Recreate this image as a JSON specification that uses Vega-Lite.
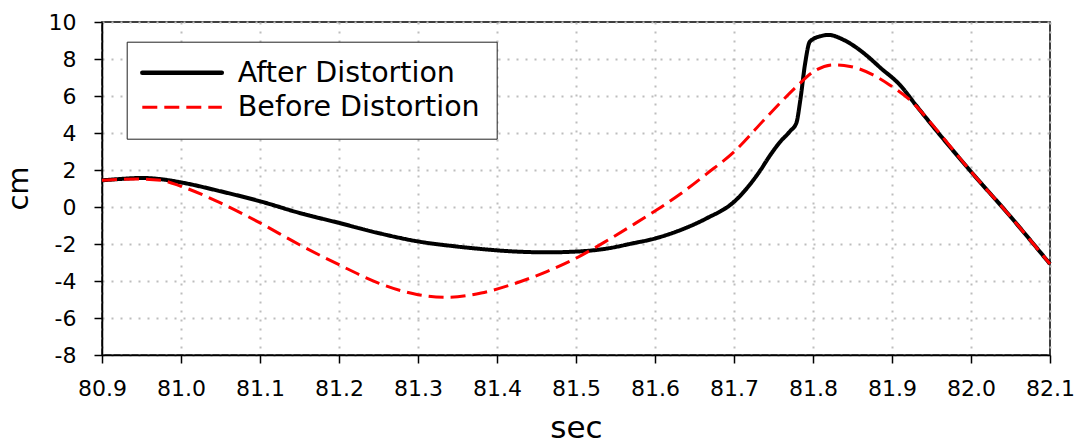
{
  "$schema": "https://vega.github.io/schema/vega-lite/v6.json",
  "autosize": "none",
  "width": 948,
  "height": 333,
  "padding": {"left": 102, "top": 22, "right": 26, "bottom": 91},
  "background": "white",
  "data": {
    "values": [
      {"t": 80.9, "cm": 1.44, "series": "After Distortion"},
      {"t": 80.925, "cm": 1.52, "series": "After Distortion"},
      {"t": 80.95, "cm": 1.57, "series": "After Distortion"},
      {"t": 80.975, "cm": 1.5, "series": "After Distortion"},
      {"t": 81.0, "cm": 1.33, "series": "After Distortion"},
      {"t": 81.05, "cm": 0.85, "series": "After Distortion"},
      {"t": 81.1, "cm": 0.31, "series": "After Distortion"},
      {"t": 81.15, "cm": -0.32, "series": "After Distortion"},
      {"t": 81.2, "cm": -0.86, "series": "After Distortion"},
      {"t": 81.25, "cm": -1.41, "series": "After Distortion"},
      {"t": 81.3, "cm": -1.86, "series": "After Distortion"},
      {"t": 81.35, "cm": -2.14, "series": "After Distortion"},
      {"t": 81.38, "cm": -2.27, "series": "After Distortion"},
      {"t": 81.42, "cm": -2.4, "series": "After Distortion"},
      {"t": 81.463, "cm": -2.45, "series": "After Distortion"},
      {"t": 81.5, "cm": -2.41, "series": "After Distortion"},
      {"t": 81.54, "cm": -2.24, "series": "After Distortion"},
      {"t": 81.57, "cm": -1.98, "series": "After Distortion"},
      {"t": 81.6, "cm": -1.7, "series": "After Distortion"},
      {"t": 81.632, "cm": -1.25, "series": "After Distortion"},
      {"t": 81.665, "cm": -0.62, "series": "After Distortion"},
      {"t": 81.7, "cm": 0.28, "series": "After Distortion"},
      {"t": 81.733, "cm": 1.96, "series": "After Distortion"},
      {"t": 81.745, "cm": 2.75, "series": "After Distortion"},
      {"t": 81.758, "cm": 3.5, "series": "After Distortion"},
      {"t": 81.771, "cm": 4.1, "series": "After Distortion"},
      {"t": 81.779, "cm": 4.55, "series": "After Distortion"},
      {"t": 81.784, "cm": 5.8, "series": "After Distortion"},
      {"t": 81.79, "cm": 7.75, "series": "After Distortion"},
      {"t": 81.796, "cm": 8.94, "series": "After Distortion"},
      {"t": 81.81, "cm": 9.24, "series": "After Distortion"},
      {"t": 81.82, "cm": 9.3, "series": "After Distortion"},
      {"t": 81.838, "cm": 9.05, "series": "After Distortion"},
      {"t": 81.85, "cm": 8.76, "series": "After Distortion"},
      {"t": 81.867, "cm": 8.22, "series": "After Distortion"},
      {"t": 81.886, "cm": 7.5, "series": "After Distortion"},
      {"t": 81.91, "cm": 6.6, "series": "After Distortion"},
      {"t": 81.93, "cm": 5.52, "series": "After Distortion"},
      {"t": 81.952, "cm": 4.35, "series": "After Distortion"},
      {"t": 82.0, "cm": 1.91, "series": "After Distortion"},
      {"t": 82.05, "cm": -0.52, "series": "After Distortion"},
      {"t": 82.1, "cm": -3.08, "series": "After Distortion"},
      {"t": 80.9, "cm": 1.44, "series": "Before Distortion"},
      {"t": 80.925, "cm": 1.49, "series": "Before Distortion"},
      {"t": 80.95, "cm": 1.51, "series": "Before Distortion"},
      {"t": 80.975, "cm": 1.44, "series": "Before Distortion"},
      {"t": 81.0, "cm": 1.12, "series": "Before Distortion"},
      {"t": 81.05, "cm": 0.22, "series": "Before Distortion"},
      {"t": 81.1, "cm": -0.86, "series": "Before Distortion"},
      {"t": 81.15, "cm": -2.04, "series": "Before Distortion"},
      {"t": 81.2, "cm": -3.12, "series": "Before Distortion"},
      {"t": 81.25, "cm": -4.11, "series": "Before Distortion"},
      {"t": 81.3, "cm": -4.74, "series": "Before Distortion"},
      {"t": 81.337, "cm": -4.88, "series": "Before Distortion"},
      {"t": 81.38, "cm": -4.65, "series": "Before Distortion"},
      {"t": 81.42, "cm": -4.17, "series": "Before Distortion"},
      {"t": 81.463, "cm": -3.49, "series": "Before Distortion"},
      {"t": 81.5, "cm": -2.77, "series": "Before Distortion"},
      {"t": 81.54, "cm": -1.8, "series": "Before Distortion"},
      {"t": 81.57, "cm": -1.02, "series": "Before Distortion"},
      {"t": 81.6, "cm": -0.22, "series": "Before Distortion"},
      {"t": 81.632, "cm": 0.7, "series": "Before Distortion"},
      {"t": 81.665, "cm": 1.78, "series": "Before Distortion"},
      {"t": 81.7, "cm": 2.98, "series": "Before Distortion"},
      {"t": 81.742, "cm": 4.89, "series": "Before Distortion"},
      {"t": 81.779, "cm": 6.5, "series": "Before Distortion"},
      {"t": 81.8, "cm": 7.3, "series": "Before Distortion"},
      {"t": 81.826, "cm": 7.68, "series": "Before Distortion"},
      {"t": 81.847, "cm": 7.6, "series": "Before Distortion"},
      {"t": 81.876, "cm": 7.14, "series": "Before Distortion"},
      {"t": 81.897, "cm": 6.6, "series": "Before Distortion"},
      {"t": 81.927, "cm": 5.61, "series": "Before Distortion"},
      {"t": 81.952, "cm": 4.4, "series": "Before Distortion"},
      {"t": 82.0, "cm": 1.91, "series": "Before Distortion"},
      {"t": 82.05, "cm": -0.52, "series": "Before Distortion"},
      {"t": 82.1, "cm": -3.08, "series": "Before Distortion"}
    ]
  },
  "encoding": {
    "x": {
      "field": "t",
      "type": "quantitative",
      "scale": {"domain": [80.9, 82.1], "nice": false, "zero": false},
      "axis": {
        "values": [80.9, 81.0, 81.1, 81.2, 81.3, 81.4, 81.5, 81.6, 81.7, 81.8, 81.9, 82.0, 82.1],
        "format": ".1f",
        "title": "sec",
        "titleFontSize": 31,
        "titleBaseline": "alphabetic",
        "titleY": 82,
        "labelPadding": 15,
        "labelFlush": false
      }
    },
    "y": {
      "field": "cm",
      "type": "quantitative",
      "scale": {"domain": [-8, 10], "nice": false, "zero": false},
      "axis": {
        "values": [-8, -6, -4, -2, 0, 2, 4, 6, 8, 10],
        "labelExpr": "toString(datum.value)",
        "title": "cm",
        "titleFontSize": 29,
        "titleAngle": -90,
        "titleAlign": "center",
        "titleBaseline": "alphabetic",
        "titleX": -75,
        "titleY": 166,
        "labelPadding": 18
      }
    },
    "color": {
      "field": "series",
      "type": "nominal",
      "scale": {"domain": ["After Distortion", "Before Distortion"], "range": ["#000000", "#ff0000"]},
      "legend": {
        "orient": "none",
        "legendX": 24.7,
        "legendY": 19.7,
        "title": null,
        "padding": 16.8,
        "fillColor": "white",
        "strokeColor": "#222222",
        "symbolType": "M-2.65,0H2.65",
        "symbolSize": 900,
        "symbolStrokeWidth": 4,
        "symbolOffset": 24.3,
        "labelOffset": 41.5,
        "labelFontSize": 28.5,
        "labelColor": "#000000",
        "labelLimit": 500,
        "rowPadding": 5.5,
        "encode": {
          "symbols": {
            "update": {
              "strokeWidth": {"signal": "datum.value === 'After Distortion' ? 4.5 : 3"},
              "strokeCap": {"signal": "datum.value === 'After Distortion' ? 'round' : 'butt'"}
            }
          }
        }
      }
    },
    "strokeDash": {
      "field": "series",
      "type": "nominal",
      "scale": {"domain": ["After Distortion", "Before Distortion"], "range": [[1, 0], [15, 7]]},
      "legend": {
        "orient": "none",
        "legendX": 24.7,
        "legendY": 19.7,
        "title": null
      }
    }
  },
  "layer": [
    {
      "transform": [{"filter": "datum.series === 'After Distortion'"}],
      "mark": {"type": "line", "strokeWidth": 4, "interpolate": "monotone", "strokeJoin": "round"}
    },
    {
      "transform": [{"filter": "datum.series === 'Before Distortion'"}],
      "mark": {"type": "line", "strokeWidth": 3, "interpolate": "monotone"}
    }
  ],
  "config": {
    "font": "DejaVu Sans",
    "view": {"stroke": "#000000", "strokeWidth": 1.5},
    "axis": {
      "labelFontSize": 22,
      "labelColor": "#000000",
      "labelFont": "DejaVu Sans",
      "titleFont": "DejaVu Sans",
      "titleFontWeight": "normal",
      "titleColor": "#000000",
      "tickSize": 8,
      "tickColor": "#000000",
      "tickWidth": 1.5,
      "domainColor": "#000000",
      "domainWidth": 1.5,
      "gridColor": "#bdbdbd",
      "gridDash": [2, 7],
      "gridWidth": 2
    },
    "legend": {"labelFont": "DejaVu Sans"}
  }
}
